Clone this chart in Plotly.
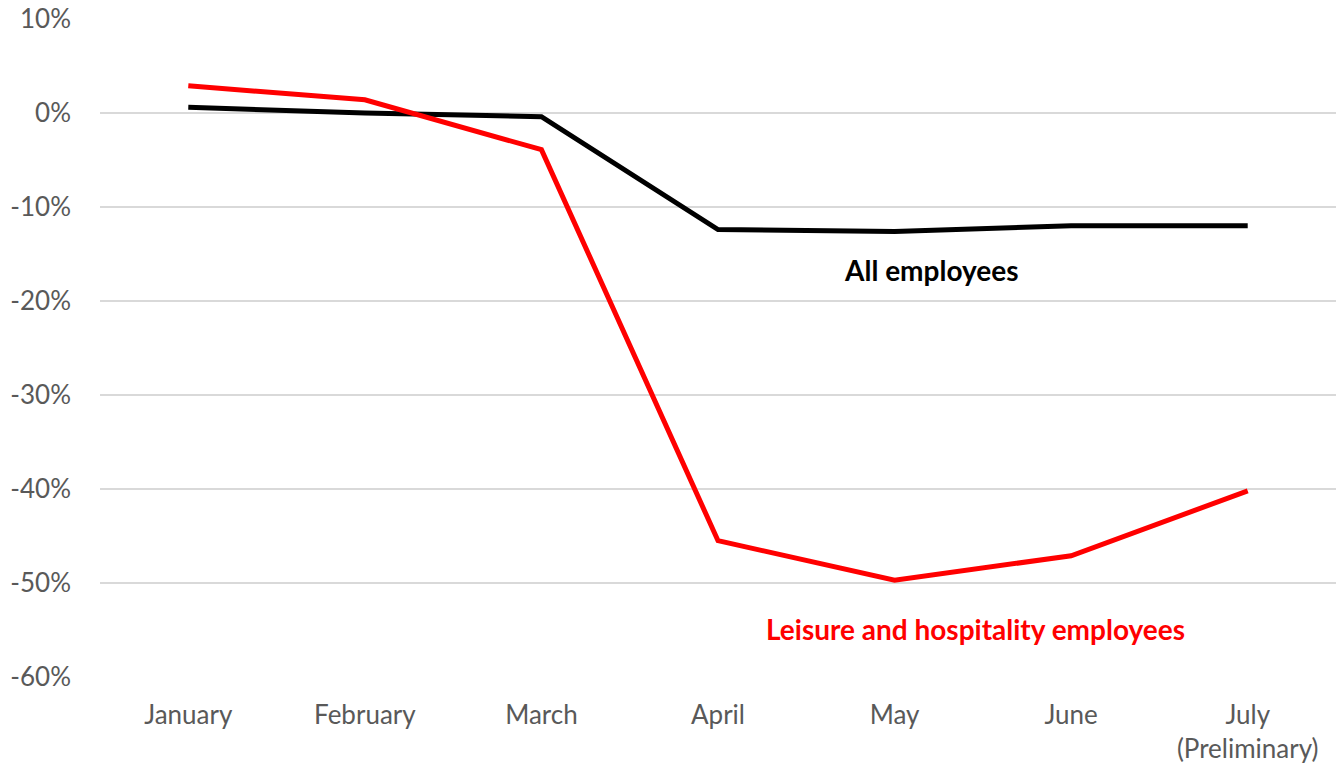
import plotly.graph_objects as go

months = ["January", "February", "March", "April", "May", "June", "July<br>(Preliminary)"]
all_employees = [0.6, 0.0, -0.4, -12.4, -12.6, -12.0, -12.0]
leisure_hospitality = [2.9, 1.4, -3.9, -45.5, -49.7, -47.1, -40.2]
y_ticks = [10, 0, -10, -20, -30, -40, -50, -60]
y_tick_labels = ["10%", "0%", "-10%", "-20%", "-30%", "-40%", "-50%", "-60%"]

font_family = "Lato, Open Sans, sans-serif"
tick_color = "#595959"

fig = go.Figure()
fig.add_trace(go.Scatter(x=months, y=all_employees, mode="lines",
                         line=dict(color="#000000", width=5), name="All employees"))
fig.add_trace(go.Scatter(x=months, y=leisure_hospitality, mode="lines",
                         line=dict(color="#ff0000", width=5), name="Leisure and hospitality employees"))

fig.add_annotation(x=4.21, y=-16.7, text="<b>All employees</b>", showarrow=False,
                   font=dict(color="#000000", size=28, family=font_family))
fig.add_annotation(x=4.46, y=-54.9, text="<b>Leisure and hospitality employees</b>", showarrow=False,
                   font=dict(color="#ff0000", size=28, family=font_family))

fig.update_layout(
    width=1338, height=769,
    margin=dict(l=100, r=2, t=19, b=92),
    paper_bgcolor="white", plot_bgcolor="white",
    showlegend=False,
    font=dict(family=font_family, size=26, color=tick_color),
)
fig.update_xaxes(range=[-0.5, 6.5], showgrid=False, showline=False, ticks="",
                 ticklabelstandoff=20, tickfont=dict(size=26, color=tick_color))
fig.update_yaxes(range=[-60, 10], tickvals=y_ticks, ticktext=y_tick_labels,
                 showgrid=True, gridcolor="#d9d9d9", gridwidth=1.5,
                 zeroline=False, showline=False, ticks="", ticklabelstandoff=28,
                 tickfont=dict(size=26, color=tick_color))

fig.write_html("out.html")
